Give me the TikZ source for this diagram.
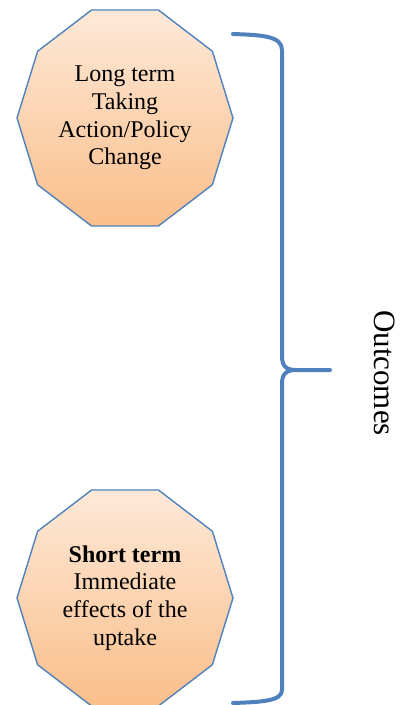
\documentclass[tikz,border=0pt]{standalone}
\usepackage{fontspec}
\setmainfont{Liberation Serif}

\definecolor{outline}{RGB}{79,129,189}
\definecolor{peachtop}{RGB}{253,233,216}
\definecolor{peachbot}{RGB}{250,190,138}

\tikzset{
    decagon/.style={draw=outline, line width=1.4pt, line join=round,
        top color=peachtop, bottom color=peachbot},
    termtext/.style={align=center, font={\fontsize{24}{27.6}\selectfont}},
    brace/.style={draw=outline, line width=4pt, line cap=round, line join=round}
}

% decagon around a centre, a bit taller than wide
\newcommand{\decagonat}[1]{%
    \draw[decagon, shift={(#1)}] (0:108 and 113.6) -- (36:108 and 113.6)
        -- (72:108 and 113.6) -- (108:108 and 113.6) -- (144:108 and 113.6)
        -- (180:108 and 113.6) -- (216:108 and 113.6) -- (252:108 and 113.6)
        -- (288:108 and 113.6) -- (324:108 and 113.6) -- cycle;}

\begin{document}
\begin{tikzpicture}[x=1pt, y=-1pt]
    \useasboundingbox (0,0) rectangle (410,705);

    % Long term
    \decagonat{125,118}
    \node[termtext] (longterm) at (125,118)
        {Long term\\Taking\\Action/Policy\\Change};

    % Short term
    \decagonat{125,598}
    \node[termtext] (shortterm) at (125,598)
        {\textbf{Short term}\\Immediate\\effects of the\\uptake};

    % Brace
    \draw[brace] (233,34) .. controls (262,35) and (282,36) .. (282,50)
        -- (282,356) .. controls (282,366) and (286,370) .. (296,370)
        -- (330,370);
    \draw[brace] (296,370) .. controls (286,370) and (282,374) .. (282,384)
        -- (282,690) .. controls (282,701) and (262,702) .. (233,703);

    \node[rotate=-90, font={\fontsize{31}{35}\selectfont}] (outcomes)
        at (385,373) {Outcomes};

\end{tikzpicture}
\end{document}
